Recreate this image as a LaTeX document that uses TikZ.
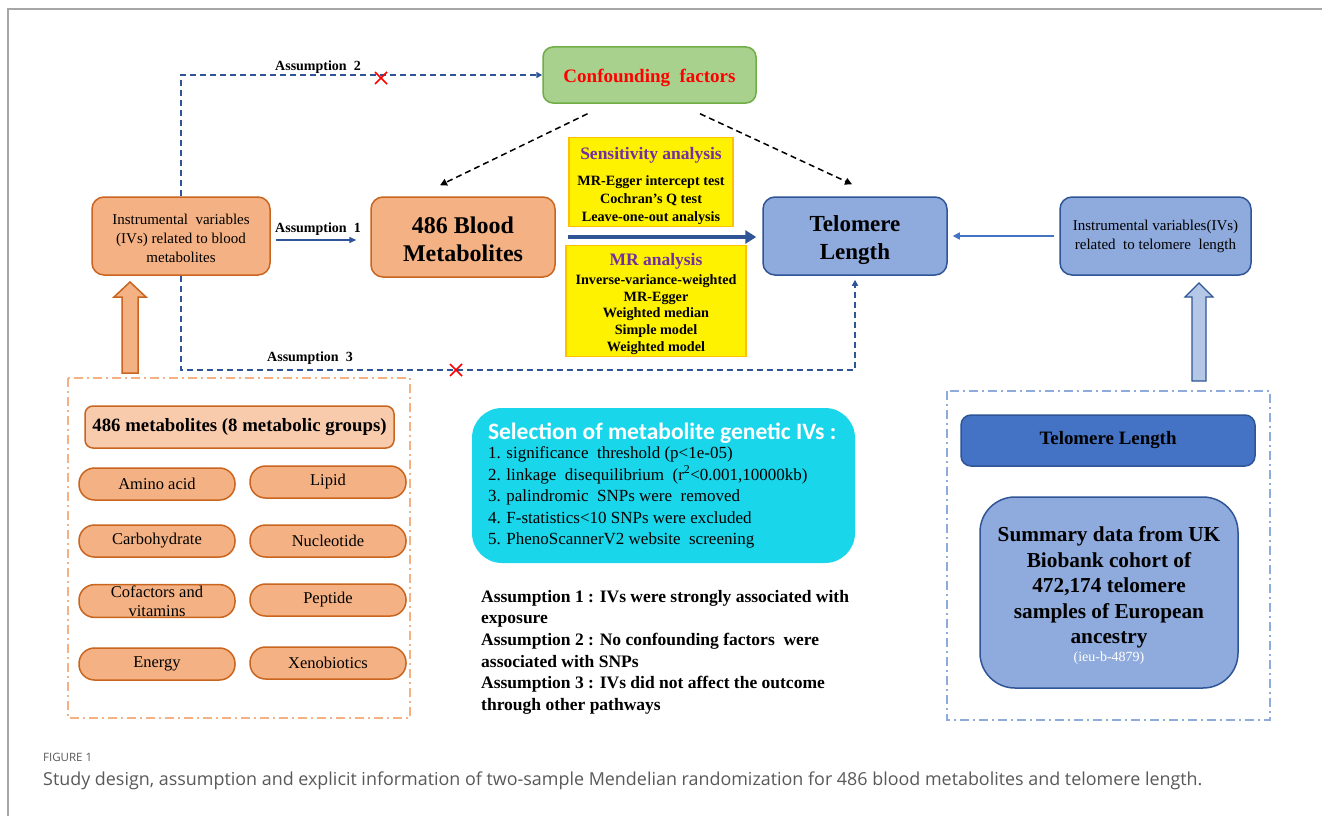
\documentclass[tikz,border=0pt]{standalone}
\usepackage{fontspec}
\setmainfont{Liberation Serif}
\newfontfamily\capfont{Open Sans}
\newfontfamily\selfont{Carlito}
\usetikzlibrary{arrows.meta,calc}
\definecolor{orfill}{HTML}{F4B183}
\definecolor{orbd}{HTML}{C9651E}
\definecolor{orlight}{HTML}{F8CBAD}
\definecolor{ordash}{HTML}{F4B183}
\definecolor{blfill}{HTML}{8FAADC}
\definecolor{blbd}{HTML}{2F5597}
\definecolor{bldark}{HTML}{4472C4}
\definecolor{blarrow}{HTML}{B4C7E7}
\definecolor{bldash}{HTML}{8FAADC}
\definecolor{asmblue}{HTML}{2F5597}
\definecolor{grfill}{HTML}{A9D18E}
\definecolor{grbd}{HTML}{70AD47}
\definecolor{ybd}{HTML}{FFC000}
\definecolor{purp}{HTML}{7030A0}
\definecolor{cyanbox}{HTML}{1AD6EA}
\definecolor{capgray}{HTML}{595959}
\definecolor{framegray}{HTML}{A6A6A6}
\newcommand{\fsz}[2]{\fontsize{#1}{#2}\selectfont}
\begin{document}
\begin{tikzpicture}[x=1pt,y=-1pt,
  orbox/.style={draw=orbd, fill=orfill, line width=1.5, rounded corners=12, align=center, inner sep=2},
  blbox/.style={draw=blbd, fill=blfill, line width=1.5, rounded corners=12, align=center, inner sep=2},
  pill/.style={draw=orbd, fill=orfill, line width=1.5, rounded corners=15.5, minimum width=156, minimum height=32, inner sep=1, align=center, font=\fsz{16.5}{19}},
  ybox/.style={draw=ybd, fill=yellow, line width=1.5, align=center, inner sep=2},
  asm/.style={draw=asmblue, line width=1.5, dash pattern=on 6pt off 4pt},
  asmarrow/.style={asm, -{Triangle[length=6,width=6]}},
  blk/.style={draw=black, line width=1.5, dash pattern=on 6pt off 4pt, -{Triangle[length=7,width=7]}},
  ddash/.style={line width=1.5, dash pattern=on 9pt off 4pt on 2pt off 4pt},
  lbl/.style={font=\bfseries\fsz{14}{14}, inner sep=0},
  xmark/.style={draw=red, line width=1.6}
]
\useasboundingbox (0,0) rectangle (1322,816);
\fill[white] (0,0) rectangle (1322,816);
% frame
\draw[framegray, line width=1.2] (8,816) -- (8,9) -- (1322,9);

% main nodes
\node[draw=grbd, fill=grfill, line width=1.5, rounded corners=10, minimum width=213, minimum height=56,
      text=red, font=\bfseries\fsz{19}{20}, text height=19pt, text depth=4pt] (conf) at (649.5,75) {Confounding~~factors};
\node[orbox, minimum width=178, minimum height=78] (ivl) at (181,236)
      {\begin{minipage}{174pt}\centering\fsz{15}{19}\vspace*{4pt}Instrumental~~variables\\(IVs) related to blood\\metabolites\end{minipage}};
\node[orbox, minimum width=184, minimum height=80] (blood) at (463,237)
      {\begin{minipage}{180pt}\centering\bfseries\fsz{24}{28}\vspace*{4pt}486 Blood\\Metabolites\end{minipage}};
\node[blbox, minimum width=184, minimum height=78] (telo) at (855,236)
      {\begin{minipage}{180pt}\centering\bfseries\fsz{23}{28}\vspace*{9pt}Telomere\\Length\end{minipage}};
\node[blbox, minimum width=191, minimum height=78, font=\fsz{15}{19}] (ivr) at (1155.5,236)
      {Instrumental variables(IVs)\\related~ to telomere~~length};

\node[ybox, minimum width=164, minimum height=86] (sens) at (651,182)
  {\begin{minipage}{160pt}\centering\bfseries\vspace*{8pt}
   {\color{purp}\fsz{17.5}{18}Sensitivity analysis\par}\vspace{8pt}
   {\fsz{14.2}{18}MR-Egger intercept test\\Cochran’s Q test\\Leave-one-out analysis\par}
   \end{minipage}};
\node[ybox, minimum width=180, minimum height=104] (mr) at (656,301)
  {\begin{minipage}{176pt}\centering\bfseries\vspace*{6pt}
   {\color{purp}\fsz{17.5}{18}MR analysis\par}\vspace{2pt}
   {\fsz{14.2}{16.8}Inverse-variance-weighted\\MR-Egger\\Weighted median\\Simple model\\Weighted model\par}
   \end{minipage}};

% connectors
\draw[asmarrow] (ivl.north) |- (conf.west);
\node[lbl] (a2lbl) at (318,67) {Assumption~~2};
\draw[xmark] (375,72) -- (387,84) (375,84) -- (387,72);

\coordinate (a3c) at (telo.south |- 0,370);
\draw[asmarrow] (ivl.south) |- (a3c) -- ($(telo.south)+(0,4)$);
\node[lbl] (a3lbl) at (310,358) {Assumption~~3};
\draw[xmark] (450,364) -- (462,376) (450,376) -- (462,364);

\draw[draw=asmblue, line width=1.5, -{Triangle[length=7,width=6]}, shorten <=5pt, shorten >=14pt] (ivl.east |- 0,240) -- (blood.west |- 0,240);
\node[lbl] (a1lbl) at (318,229) {Assumption~~1};

\draw[blk] ($(conf.south)+(-62,10)$) -- ($(blood.north)+(-23,-11)$);
\draw[blk] ($(conf.south)+(50.5,10)$) -- ($(telo.north)+(-3,-12)$);

\draw[draw=asmblue, line width=4, -{Triangle[length=11,width=13]}] ($(blood.east)+(12,0)$) -- ($(telo.west)+(-6,1)$);
\draw[draw=bldark, line width=1.5, -{Triangle[length=7,width=7]}] ($(ivr.west)+(-5,0)$) -- ($(telo.east)+(5,0)$);

% left bottom group
\draw[ordash, ddash] (68,378) rectangle (410,718);
\node[draw=orbd, fill=orlight, line width=1.5, rounded corners=8, minimum width=309, minimum height=42,
      font=\bfseries\fsz{18.8}{20}] (grp) at (239.5,427) {486 metabolites (8 metabolic groups)};
\node[pill] (p1) at (157,484) {Amino acid};
\node[pill] (p2) at (328,482) {Lipid};
\node[pill] (p3) at (157,541) {Carbohydrate};
\node[pill] (p4) at (328,541) {Nucleotide};
\node[pill] (p5) at (157,601) {Cofactors and\\vitamins};
\node[pill] (p6) at (328,600) {Peptide};
\node[pill] (p7) at (157,664) {Energy};
\node[pill] (p8) at (328,663) {Xenobiotics};
\draw[draw=orbd, fill=orfill, line width=1.5, line join=miter]
  (122,373) -- (122,297) -- (114,297) -- (130,282) -- (146,297) -- (138,297) -- (138,373) -- cycle;

% middle
\node[fill=cyanbox, rounded corners=30, minimum width=383, minimum height=155, inner sep=0] (sel) at (663.5,485.5)
  {\begin{minipage}{351pt}\raggedright
   {\selfont\bfseries\color{white}\fsz{23.5}{24}\mbox{Selection of metabolite genetic IVs :}\par}\vspace{-2pt}
   {\fsz{17}{21.5}1. significance~ threshold (p<1e-05)\\
   2. linkage~ disequilibrium~ (r\textsuperscript{2}<0.001,10000kb)\\
   3. palindromic~ SNPs were~ removed\\
   4. F-statistics<10 SNPs were excluded\\
   5. PhenoScannerV2 website~ screening\par}
   \end{minipage}};

\node[anchor=north west, align=left, inner sep=0, font=\bfseries\fsz{17.5}{21.6}] (asmtext) at (481,590)
  {Assumption 1 : IVs were strongly associated with\\
   exposure\\
   Assumption 2 : No confounding factors~ were\\
   associated with SNPs\\
   Assumption 3 : IVs did not affect the outcome\\
   through other pathways};

% right bottom group
\draw[bldash, ddash] (947,391) rectangle (1270,720);
\node[draw=blbd, fill=bldark, line width=1.5, rounded corners=10, minimum width=294, minimum height=51,
      font=\bfseries\fsz{18.9}{19}] (tl2) at (1108,440.5) {Telomere Length};
\node[draw=blbd, fill=blfill, line width=1.5, rounded corners=35, minimum width=258, minimum height=191,
      inner sep=0] (summ) at (1109,592.5)
  {\begin{minipage}{250pt}\centering\vspace*{6pt}
   {\bfseries\fsz{21.3}{25.5}Summary data from UK\\Biobank cohort of\\472,174 telomere\\samples of European\\ancestry\par}\vspace{3pt}
   {\color{white}\fsz{14}{15}(ieu-b-4879)\par}
   \end{minipage}};
\draw[draw=blbd, fill=blarrow, line width=1.2, line join=miter]
  (1192,381) -- (1192,297) -- (1185,297) -- (1199,283) -- (1213,297) -- (1206,297) -- (1206,381) -- cycle;

% caption
\node[anchor=west, inner sep=0, text=capgray, font=\capfont\fsz{11.5}{12}] (fig) at (43,757) {FIGURE 1};
\node[anchor=west, inner sep=0, text=capgray, font=\capfont\fsz{17.9}{18}] (cap) at (43,781)
  {Study design, assumption and explicit information of two-sample Mendelian randomization for 486 blood metabolites and telomere length.};
\end{tikzpicture}
\end{document}
